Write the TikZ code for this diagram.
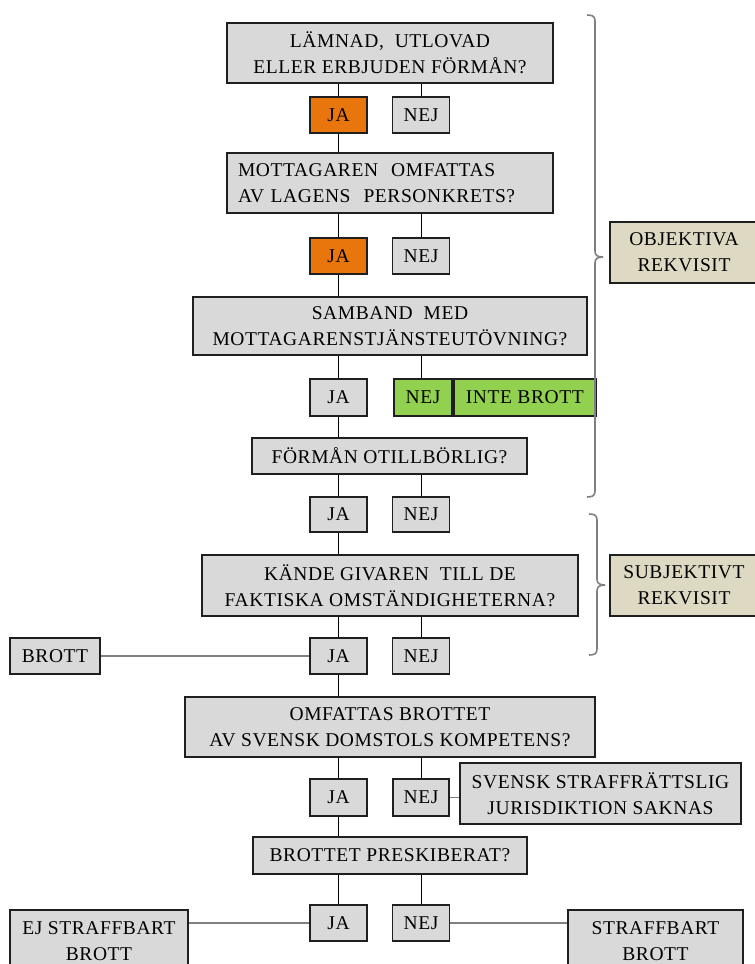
\documentclass[tikz,border=0pt]{standalone}
\usepackage{fontspec}
\setmainfont{Liberation Serif}[LetterSpace=3]
\definecolor{boxgray}{HTML}{D9D9D9}
\definecolor{orangefill}{HTML}{E8760C}
\definecolor{greenfill}{HTML}{92D050}
\definecolor{beigefill}{HTML}{DDD9C3}
\definecolor{bracegray}{HTML}{808080}
\tikzset{
  box/.style={draw=black!88, line width=1.8pt, fill=boxgray, align=center, inner sep=0pt,
    font=\fontsize{19.5}{26}\selectfont},
  jabox/.style={box, minimum width=57pt, minimum height=36pt},
  orangebox/.style={jabox, fill=orangefill},
  greenbox/.style={box, fill=greenfill},
  sidebox/.style={box, fill=beigefill},
  conn/.style={draw=black, line width=1pt},
  sideconn/.style={draw=bracegray, line width=1.6pt},
  bracepath/.style={draw=bracegray, line width=1.6pt}
}
\begin{document}
\begin{tikzpicture}[x=1pt,y=-1pt]
\useasboundingbox (0,0) rectangle (755,964);
\fill[white] (0,0) rectangle (755,964);

% question boxes
\node[box, minimum width=326pt, minimum height=60pt] (q1) at (390,53) {LÄMNAD,\ \ UTLOVAD\\ELLER ERBJUDEN FÖRMÅN?};
\node[box, minimum width=326pt, minimum height=60pt, text width=304pt, align=left, inner xsep=11pt] (q2) at (390,183) {MOTTAGAREN\ \ OMFATTAS\\AV LAGENS\ \ PERSONKRETS?};
\node[box, minimum width=394pt, minimum height=58pt] (q3) at (390,326) {SAMBAND\ \ MED\\MOTTAGARENSTJÄNSTEUTÖVNING?};
\node[box, minimum width=275pt, minimum height=36pt] (q4) at (389.5,456) {FÖRMÅN OTILLBÖRLIG?};
\node[box, minimum width=376pt, minimum height=61pt] (q5) at (390,585.5) {KÄNDE GIVAREN\ \ TILL DE\\FAKTISKA OMSTÄNDIGHETERNA?};
\node[box, minimum width=410pt, minimum height=60pt] (q6) at (390,727) {OMFATTAS BROTTET\\AV SVENSK DOMSTOLS KOMPETENS?};
\node[box, minimum width=274pt, minimum height=37pt] (q7) at (390,855.5) {BROTTET PRESKIBERAT?};

% answer boxes
\node[orangebox] (ja1) at (338.5,115) {JA};
\node[jabox] (nej1) at (421,115) {NEJ};
\node[orangebox] (ja2) at (338.5,256) {JA};
\node[jabox] (nej2) at (421,256) {NEJ};
\node[jabox, minimum height=37pt] (ja3) at (338.5,397.5) {JA};
\node[greenbox, minimum width=58pt, minimum height=37pt] (nej3) at (423,397.5) {NEJ};
\node[greenbox, minimum width=142pt, minimum height=37pt, anchor=west] (inte) at (nej3.east) {INTE BROTT};
\node[jabox, minimum height=35pt] (ja4) at (338.5,514.5) {JA};
\node[jabox, minimum height=35pt] (nej4) at (421,514.5) {NEJ};
\node[jabox] (ja5) at (338.5,656) {JA};
\node[jabox] (nej5) at (421,656) {NEJ};
\node[jabox, minimum height=37pt] (ja6) at (338.5,797.5) {JA};
\node[jabox, minimum height=37pt, minimum width=56pt] (nej6) at (421,797.5) {NEJ};
\node[jabox] (ja7) at (338.5,923) {JA};
\node[jabox] (nej7) at (421,923) {NEJ};

% outcome boxes
\node[box, minimum width=90pt, minimum height=36pt] (brott) at (55,656) {BROTT};
\node[box, minimum width=281pt, minimum height=61pt] (svensk) at (600.5,793.5) {SVENSK STRAFFRÄTTSLIG\\JURISDIKTION SAKNAS};
\node[box, minimum width=178pt, minimum height=62pt] (ej) at (99,941) {EJ STRAFFBART\\BROTT};
\node[box, minimum width=175pt, minimum height=62pt] (straff) at (655.5,941) {STRAFFBART\\BROTT};

% side labels
\node[sidebox, minimum width=148pt, minimum height=61pt] (obj) at (684,252.5) {OBJEKTIVA\\REKVISIT};
\node[sidebox, minimum width=148pt, minimum height=61pt] (subj) at (684,585.5) {SUBJEKTIVT\\REKVISIT};

% main JA chain
\draw[conn] (q1.south -| ja1.north) -- (ja1.north);
\draw[conn] (ja1.south) -- (q2.north -| ja1.south);
\draw[conn] (q2.south -| ja2.north) -- (ja2.north);
\draw[conn] (ja2.south) -- (q3.north -| ja2.south);
\draw[conn] (q3.south -| ja3.north) -- (ja3.north);
\draw[conn] (ja3.south) -- (q4.north -| ja3.south);
\draw[conn] (q4.south -| ja4.north) -- (ja4.north);
\draw[conn] (ja4.south) -- (q5.north -| ja4.south);
\draw[conn] (q5.south -| ja5.north) -- (ja5.north);
\draw[conn] (ja5.south) -- (q6.north -| ja5.south);
\draw[conn] (q6.south -| ja6.north) -- (ja6.north);
\draw[conn] (ja6.south) -- (q7.north -| ja6.south);
\draw[conn] (q7.south -| ja7.north) -- (ja7.north);

% NEJ branches
\draw[conn] (q1.south -| nej1.north) -- (nej1.north);
\draw[conn] (q2.south -| nej2.north) -- (nej2.north);
\draw[conn] (q3.south -| nej1.north) -- (nej3.north -| nej1.north);
\draw[conn] (q4.south -| nej4.north) -- (nej4.north);
\draw[conn] (q5.south -| nej5.north) -- (nej5.north);
\draw[conn] (q6.south -| nej6.north) -- (nej6.north);
\draw[conn] (q7.south -| nej7.north) -- (nej7.north);

% side connectors
\draw[sideconn] (brott.east) -- (ja5.west);
\draw[sideconn] (nej6.east) -- (svensk.west |- nej6.east);
\draw[sideconn] (ej.east |- ja7.west) -- (ja7.west);
\draw[sideconn] (nej7.east) -- (straff.west |- nej7.east);

% braces
\draw[bracepath] (587,15) .. controls (592,15) and (595,16) .. (595,21) -- (595,251)
  .. controls (595,255) and (597,257) .. (603,257)
  .. controls (597,257) and (595,259) .. (595,263) -- (595,491)
  .. controls (595,496) and (592,497) .. (587,497);
\draw[bracepath] (589,514) .. controls (594,514) and (597,515) .. (597,520) -- (597,579)
  .. controls (597,583) and (599,585) .. (605,585)
  .. controls (599,585) and (597,587) .. (597,591) -- (597,649)
  .. controls (597,654) and (594,655) .. (589,655);
\end{tikzpicture}
\end{document}
